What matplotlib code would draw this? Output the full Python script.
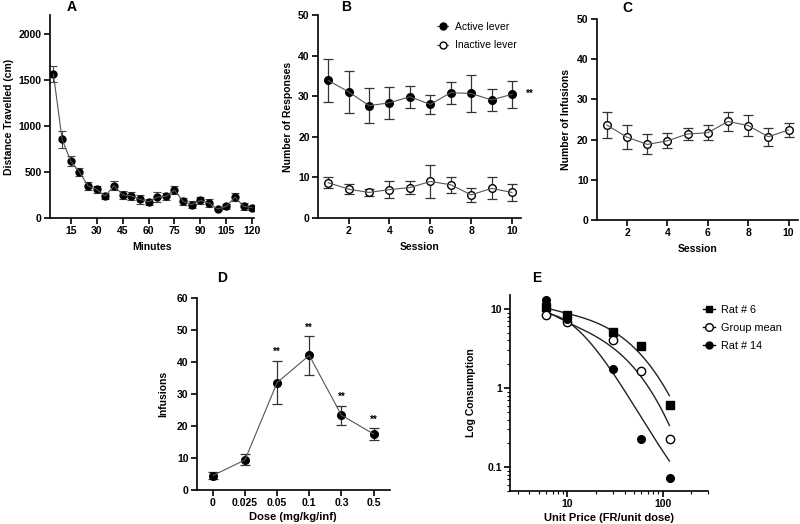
import numpy as np
import matplotlib.pyplot as plt
from matplotlib.lines import Line2D

plt.rcParams['font.family'] = ['Liberation Sans', 'DejaVu Sans']
plt.rcParams['font.weight'] = 'bold'
plt.rcParams['axes.linewidth'] = 1.2

# panel A: locomotor activity
minutes = [5, 10, 15, 20, 25, 30, 35, 40, 45, 50, 55, 60,
           65, 70, 75, 80, 85, 90, 95, 100, 105, 110, 115, 120]
distance = [1560, 852, 617, 502, 347, 310, 238, 350, 250, 240, 202, 173,
            227, 235, 303, 180, 145, 190, 162, 97, 126, 227, 126, 112]
distance_err = [85, 95, 55, 45, 40, 40, 35, 50, 45, 45, 50, 35,
                50, 35, 40, 35, 35, 35, 40, 15, 25, 45, 35, 20]

# panel B: lever responses
sessions = [1, 2, 3, 4, 5, 6, 7, 8, 9, 10]
active = [33.9, 31.1, 27.7, 28.4, 29.9, 28.0, 30.9, 30.7, 29.1, 30.5]
active_err = [5.2, 5.2, 4.3, 3.9, 2.7, 2.3, 2.7, 4.6, 2.8, 3.3]
inactive = [8.7, 7.1, 6.3, 7.0, 7.5, 9.0, 8.2, 5.7, 7.3, 6.3]
inactive_err = [1.4, 1.3, 0.9, 2.0, 1.7, 4.1, 2.0, 1.7, 2.7, 2.0]

# panel C: infusions per session
infusions = [23.6, 20.6, 18.8, 19.7, 21.4, 21.7, 24.5, 23.5, 20.7, 22.4]
infusions_err = [3.2, 3.0, 2.5, 1.9, 1.5, 1.9, 2.4, 2.5, 2.2, 1.7]

# panel D: dose response
doses = ['0', '0.025', '0.05', '0.1', '0.3', '0.5']
dose_inf = [4.5, 9.4, 33.6, 42.1, 23.4, 17.5]
dose_err = [1.0, 1.7, 6.8, 6.0, 3.0, 1.8]
dose_sig = ['', '', '**', '**', '**', '**']

# panel E: demand curves
unit_price = [6, 10, 30, 60, 120]
rat6 = [10.5, 8.3, 5.07, 3.43, 0.615]
group_mean = [8.48, 6.9, 4.1, 1.62, 0.228]
rat14 = [13.0, 7.47, 1.74, 0.228, 0.0726]

# fitted curves
fit6_x = [6, 11.3, 30, 57, 118]
fit6_y = [10.3, 8.5, 5.2, 2.8, 0.80]
fitmean_x = [6, 11.3, 25.3, 57, 118]
fitmean_y = [9.3, 6.65, 3.53, 1.55, 0.333]
fit14_x = [6, 11.3, 25.3, 38, 57, 85, 118]
fit14_y = [8.9, 5.75, 2.28, 1.05, 0.436, 0.211, 0.124]

line_col = '#555555'
err_col = '#333333'
tick_fs = 7.5
lab_fs = 7.5


def style_axis(ax):
    ax.spines['top'].set_visible(False)
    ax.spines['right'].set_visible(False)
    ax.tick_params(direction='out', length=4, width=1.2, labelsize=tick_fs, pad=2)
    for lab in ax.get_xticklabels() + ax.get_yticklabels():
        lab.set_fontweight('bold')


def smooth_fit(xs, ys):
    # smooth line through the read fit points in log-log space
    lx = np.log10(xs)
    ly = np.log10(ys)
    coef = np.polyfit(lx, ly, 3)
    xx = np.linspace(lx[0], lx[-1], 200)
    return 10 ** xx, 10 ** np.polyval(coef, xx)


fig = plt.figure(figsize=(8, 5.24), dpi=100)

# ---- A
axA = fig.add_axes([0.0625, 0.584, 0.255, 0.387])
axA.errorbar(minutes, distance, yerr=distance_err, fmt='-', color=line_col, lw=0.8,
             ecolor='#444444', elinewidth=0.8, capsize=3, capthick=0.8)
axA.plot(minutes, distance, 'o', color='black', ms=5)
axA.set_xlim(3, 121)
axA.set_ylim(0, 2200)
axA.set_xticks([15, 30, 45, 60, 75, 90, 105, 120])
axA.set_yticks([0, 500, 1000, 1500, 2000])
axA.set_xlabel('Minutes', fontsize=lab_fs, fontweight='bold', labelpad=4)
axA.set_ylabel('Distance Travelled (cm)', fontsize=lab_fs, fontweight='bold', labelpad=3)
style_axis(axA)
fig.text(72 / 800, 1 - 7 / 524, 'A', fontsize=10, fontweight='bold', ha='center', va='center')

# ---- B
axB = fig.add_axes([0.3975, 0.584, 0.254, 0.387])
axB.errorbar(sessions, active, yerr=active_err, fmt='-', color=line_col, lw=0.8,
             ecolor=err_col, elinewidth=0.9, capsize=3.5, capthick=0.9)
axB.plot(sessions, active, 'o', color='black', ms=5.5)
axB.errorbar(sessions, inactive, yerr=inactive_err, fmt='-', color=line_col, lw=0.8,
             ecolor=err_col, elinewidth=0.9, capsize=3.5, capthick=0.9)
axB.plot(sessions, inactive, 'o', mfc='white', mec='black', mew=1.0, ms=5.5)
axB.set_xlim(0.5, 10.45)
axB.set_ylim(0, 50)
axB.set_xticks([2, 4, 6, 8, 10])
axB.set_yticks([0, 10, 20, 30, 40, 50])
axB.set_xlabel('Session', fontsize=lab_fs, fontweight='bold', labelpad=4)
axB.set_ylabel('Number of Responses', fontsize=lab_fs, fontweight='bold', labelpad=4)
axB.text(10.7, 30.5, '**', fontsize=7, fontweight='bold', ha='left', va='center',
         clip_on=False)
hB = [Line2D([0], [0], color=line_col, lw=0.8, marker='o', mfc='black', mec='black', ms=5),
      Line2D([0], [0], color=line_col, lw=0.8, marker='o', mfc='white', mec='black', ms=5)]
legB = fig.legend(hB, ['Active lever', 'Inactive lever'], loc='upper left',
                  bbox_to_anchor=(437 / 800, 1 - 22 / 524), frameon=False, fontsize=7.5,
                  handlelength=1.1, handletextpad=0.6, labelspacing=0.8, borderpad=0,
                  borderaxespad=0)
for t in legB.get_texts():
    t.set_fontweight('normal')
style_axis(axB)
fig.text(346 / 800, 1 - 7 / 524, 'B', fontsize=10, fontweight='bold', ha='center', va='center')

# ---- C
axC = fig.add_axes([0.746, 0.58, 0.251, 0.384])
axC.errorbar(sessions, infusions, yerr=infusions_err, fmt='-', color=line_col, lw=0.8,
             ecolor=err_col, elinewidth=0.9, capsize=3.5, capthick=0.9)
axC.plot(sessions, infusions, 'o', mfc='white', mec='black', mew=1.0, ms=5.5)
axC.set_xlim(0.5, 10.45)
axC.set_ylim(0, 50)
axC.set_xticks([2, 4, 6, 8, 10])
axC.set_yticks([0, 10, 20, 30, 40, 50])
axC.set_xlabel('Session', fontsize=lab_fs, fontweight='bold', labelpad=4)
axC.set_ylabel('Number of Infusions', fontsize=lab_fs, fontweight='bold', labelpad=4)
style_axis(axC)
fig.text(627 / 800, 1 - 8 / 524, 'C', fontsize=10, fontweight='bold', ha='center', va='center')

# ---- D
axD = fig.add_axes([0.246, 0.065, 0.241, 0.366])
pos = np.arange(len(doses))
axD.errorbar(pos, dose_inf, yerr=dose_err, fmt='-', color=line_col, lw=0.8,
             ecolor=err_col, elinewidth=0.9, capsize=3.5, capthick=0.9)
axD.plot(pos, dose_inf, 'o', color='black', ms=5.5)
for p, v, e, s in zip(pos, dose_inf, dose_err, dose_sig):
    if s:
        axD.text(p, v + e + 1.2, s, fontsize=7, fontweight='bold', ha='center', va='bottom')
axD.set_xlim(-0.5, 5.5)
axD.set_ylim(0, 60)
axD.set_xticks(pos)
axD.set_xticklabels(doses)
axD.set_yticks([0, 10, 20, 30, 40, 50, 60])
axD.set_xlabel('Dose (mg/kg/inf)', fontsize=lab_fs + 0.5, fontweight='bold', labelpad=3)
axD.set_ylabel('Infusions', fontsize=lab_fs, fontweight='bold', labelpad=6)
style_axis(axD)
fig.text(222 / 800, 1 - 278 / 524, 'D', fontsize=10, fontweight='bold', ha='center', va='center')

# ---- E
axE = fig.add_axes([0.6375, 0.063, 0.2475, 0.374])
for fx, fy in [(fit6_x, fit6_y), (fitmean_x, fitmean_y), (fit14_x, fit14_y)]:
    cx, cy = smooth_fit(fx, fy)
    axE.plot(cx, cy, '-', color='#222222', lw=1.0)
axE.plot(unit_price, rat6, 's', color='black', ms=5.5, ls='none')
axE.plot(unit_price, group_mean, 'o', mfc='white', mec='black', mew=1.0, ms=6, ls='none')
axE.plot(unit_price, rat14, 'o', color='black', ms=5.5, ls='none')
axE.set_xscale('log')
axE.set_yscale('log')
axE.set_xlim(2.5, 300)
axE.set_ylim(0.05, 15)
axE.set_xticks([10, 100])
axE.set_xticklabels(['10', '100'])
axE.set_yticks([0.1, 1, 10])
axE.set_yticklabels(['0.1', '1', '10'])
axE.tick_params(which='minor', length=2.5, width=0.8)
axE.set_xlabel('Unit Price (FR/unit dose)', fontsize=lab_fs + 0.5, fontweight='bold', labelpad=3)
axE.set_ylabel('Log Consumption', fontsize=lab_fs, fontweight='bold', labelpad=8)
style_axis(axE)
axE.tick_params(which='minor', labelleft=False, labelbottom=False)
hE = [Line2D([0], [0], color='black', lw=1.0, marker='s', ms=5),
      Line2D([0], [0], color='black', lw=1.0, marker='o', mfc='white', mec='black', ms=5.5),
      Line2D([0], [0], color='black', lw=1.0, marker='o', ms=5)]
legE = fig.legend(hE, ['Rat # 6', 'Group mean', 'Rat # 14'], loc='upper left',
                  bbox_to_anchor=(703 / 800, 1 - 305 / 524), frameon=False, fontsize=7.8,
                  handlelength=1.1, handletextpad=0.6, labelspacing=0.75, borderpad=0,
                  borderaxespad=0)
for t in legE.get_texts():
    t.set_fontweight('normal')
fig.text(537 / 800, 1 - 278 / 524, 'E', fontsize=10, fontweight='bold', ha='center', va='center')

fig.savefig('out.png', dpi=100)
